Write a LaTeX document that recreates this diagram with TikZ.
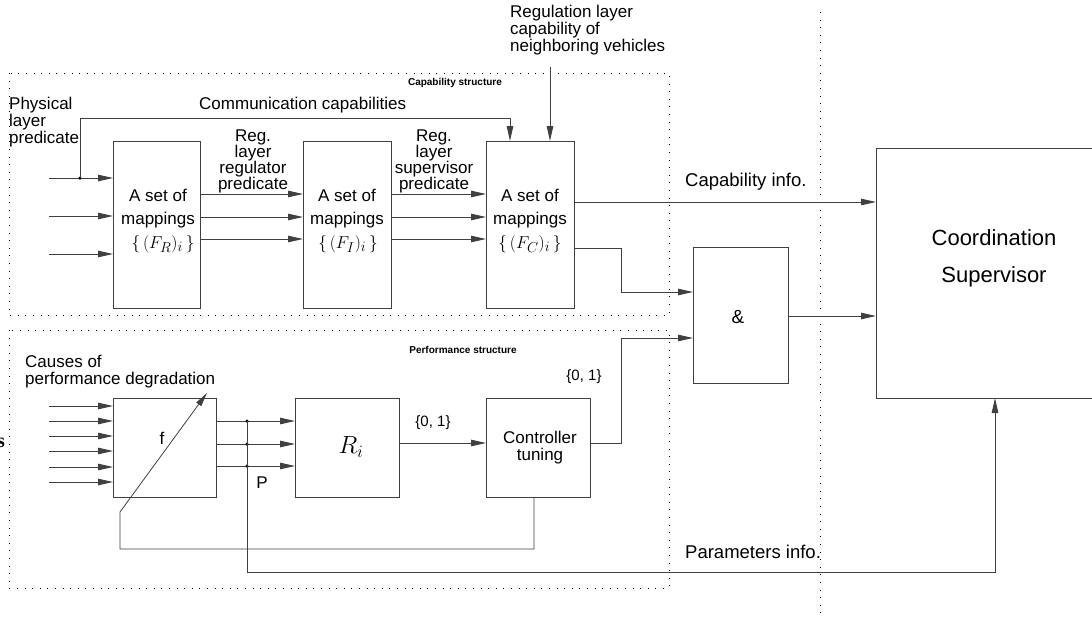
\documentclass[tikz,border=0pt]{standalone}
\usepackage{fontspec}
\setmainfont{Liberation Sans}
\newfontfamily\serfont{Liberation Serif}
\usetikzlibrary{arrows.meta}
\begin{document}
\begin{tikzpicture}[x=1pt,y=-1pt,
  every node/.style={font=\fontsize{17}{17}\selectfont, inner sep=0pt},
  box/.style={draw=black!75, line width=0.9pt, inner sep=0pt, outer sep=0pt, align=center},
  wire/.style={draw=black!75, line width=0.9pt},
  arr/.style={wire, -{Triangle[length=15pt,width=6.5pt]}},
  frame/.style={draw=black, line width=0.8pt, dash pattern=on 1pt off 6.6pt},
  smalllbl/.style={font=\fontsize{10}{11}\selectfont\bfseries},
  jdot/.style={fill=black, circle, minimum size=3.5pt, inner sep=0pt},
  mathlbl/.style={font=\fontsize{19}{19}\selectfont}
]
\useasboundingbox (0,0) rectangle (1092,618);
\clip (0,0) rectangle (1092,618);

% frames
\draw[frame] (9,73) rectangle (669,315);
\draw[frame] (9,330) rectangle (669,588);
\draw[frame] (820,12) -- (820,618);
\node[smalllbl] (capstruct) at (455,83) {Capability structure};
\node[smalllbl] (perfstruct) at (463,350) {Performance structure};

% capability boxes
\node[box, minimum width=87pt, minimum height=167pt] (FR) at (156.5,224.5) {};
\node[align=center] (FRt) at (158,208.5) {A set of\\[6pt]mappings};
\node[mathlbl] (FRm) at (163,244) {$\{\,(F_R)_i\,\}$};
\node[box, minimum width=88pt, minimum height=167pt] (FI) at (347,224.5) {};
\node[align=center] (FIt) at (347,208.5) {A set of\\[6pt]mappings};
\node[mathlbl] (FIm) at (348,244) {$\{\,(F_I)_i\,\}$};
\node[box, minimum width=88pt, minimum height=167pt] (FC) at (530,224.5) {};
\node[align=center] (FCt) at (530,208.5) {A set of\\[6pt]mappings};
\node[mathlbl] (FCm) at (530,244) {$\{\,(F_C)_i\,\}$};

\node[box, minimum width=95pt, minimum height=136pt] (AND) at (740.5,315) {};
\node[font=\fontsize{19}{19}\selectfont] (ANDt) at (738,317) {\&};
\node[box, minimum width=244pt, minimum height=250pt] (CS) at (998,273) {};
\node[align=center, font=\fontsize{22}{22}\selectfont] (CSt) at (994,258.5) {Coordination\\[15pt]Supervisor};

% performance boxes
\node[box, minimum width=103pt, minimum height=99pt] (f) at (164.5,447.5) {};
\node[box, minimum width=104pt, minimum height=99pt] (Ri) at (347,447.5) {};
\node[font=\fontsize{25}{25}\selectfont] (Rit) at (351,447) {$R_i$};
\node[box, minimum width=104pt, minimum height=99pt] (CT) at (538,447.5) {};
\node[align=center] (CTt) at (540,447.5) {Controller\\tuning};

% labels
\node[anchor=west, align=left] (phys) at (9,122) {Physical\\layer\\predicate};
\node[anchor=west] (comm) at (199,105) {Communication capabilities};
\node[align=center, font=\fontsize{17}{16}\selectfont] (regreg) at (253,161) {Reg.\\layer\\regulator\\predicate};
\node[align=center, font=\fontsize{17}{16}\selectfont] (regsup) at (434,161) {Reg.\\layer\\supervisor\\predicate};
\node[anchor=west, align=left, font=\fontsize{17}{15}\selectfont] (neigh) at (510,30) {Regulation layer\\capability of\\neighboring vehicles};
\node[anchor=west, font=\fontsize{18.5}{19}\selectfont] (capinfo) at (685,182) {Capability info.};
\node[anchor=west, font=\fontsize{18.5}{19}\selectfont] (parinfo) at (685,552) {Parameters info.};
\node[anchor=west, align=left] (causes) at (25,372) {Causes of\\performance degradation};
\node (flbl) at (162,438) {f};
\node (plbl) at (262,483) {P};
\node[font=\fontsize{15}{15}\selectfont] (zo1) at (433,423) {\{0, 1\}};
\node[font=\fontsize{15}{15}\selectfont] (zo2) at (584,377) {\{0, 1\}};
\node[anchor=east, font=\serfont\bfseries\fontsize{20}{20}\selectfont] (cut) at (5,443) {s};

% capability inputs
\foreach \y [count=\k] in {178,216,254} {
  \coordinate (in\k) at (49,\y);
  \draw[arr] (in\k) -- (in\k -| FR.west);
}
\node[jdot] (j0) at (80,178) {};
\draw[arr] (j0.center) -- (80,118) -| (FC.north -| 510,0);
\coordinate (neighsrc) at (550,67);
\draw[arr] (neighsrc) -- (FC.north -| neighsrc);

\foreach \y in {194,217,239} {
  \draw[arr] (FR.east |- 0,\y) -- (FI.west |- 0,\y);
  \draw[arr] (FI.east |- 0,\y) -- (FC.west |- 0,\y);
}
\draw[arr] (FC.east |- 0,202) -- (CS.west |- 0,202);
\draw[arr] (FC.east |- 0,248) -- (621,248) |- (AND.west |- 0,292);
\draw[arr] (AND.east |- 0,316) -- (CS.west |- 0,316);

% performance
\foreach \y [count=\k] in {406,421,436,451,467,482} {
  \coordinate (pin\k) at (49,\y);
  \draw[arr] (pin\k) -- (pin\k -| f.west);
}
\foreach \y [count=\k] in {421,444,466} {
  \draw[arr] (f.east |- 0,\y) -- (Ri.west |- 0,\y);
  \node[jdot] (pj\k) at (247,\y) {};
}
\draw[arr] (pj1.center) -- (247,572) -| (CS.south -| 995,0);
\draw[arr] (Ri.east |- 0,443) -- (CT.west |- 0,443);
\draw[arr] (CT.east |- 0,443) -- (621,443) |- (AND.west |- 0,338);
\coordinate (knob) at (207,393);
\draw[wire, -{Triangle[length=14pt,width=6pt]}, line width=0.8pt] (CT.south -| 534,0) |- (120,549) -- (120,512) -- (knob);
\end{tikzpicture}
\end{document}
